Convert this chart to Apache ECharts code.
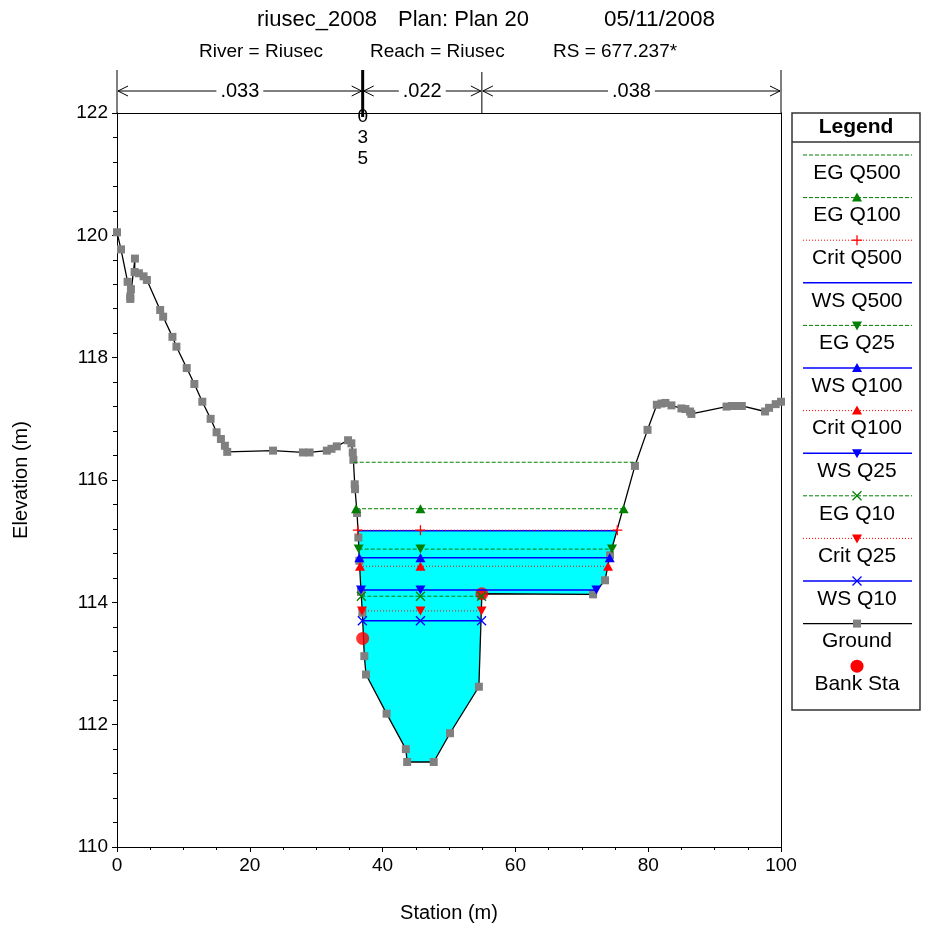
<!DOCTYPE html>
<html><head><meta charset="utf-8">
<script src="https://cdn.jsdelivr.net/npm/echarts@6/dist/echarts.min.js"></script>
<style>html,body{margin:0;padding:0;background:#fff}#c{width:928px;height:928px}</style>
</head><body><div id="c"></div>
<script>
// ---------------- DATA ----------------
const groundX = [0.0,0.6,1.6,2.1,2.0,2.0,2.7,2.65,3.3,4.0,4.5,6.5,6.95,8.35,8.95,10.5,11.65,12.85,14.1,15.0,15.65,16.25,16.6,
  23.5,28.0,29.0,31.6,32.3,33.1,34.8,35.3,35.5,35.6,35.8,35.85,36.15,36.35,36.5,36.75,36.95,37.25,37.5,40.6,43.5,43.7,47.7,50.15,54.5,54.95,
  71.7,73.5,74.25,78.0,79.9,81.3,82.0,82.6,83.5,85.0,85.6,86.3,86.5,91.8,92.6,93.3,94.1,97.6,98.2,99.2,100.0];
const groundY = [120.05,119.77,119.24,119.12,119.0,118.96,119.62,119.4,119.38,119.33,119.27,118.78,118.67,118.34,118.18,117.83,117.57,117.28,117.0,116.78,116.67,116.56,116.46,
  116.48,116.45,116.45,116.48,116.51,116.55,116.65,116.6,116.45,116.33,115.93,115.85,115.46,115.06,114.68,114.17,113.83,113.12,112.82,112.18,111.6,111.39,111.39,111.86,112.62,114.14,
  114.13,114.36,114.77,116.23,116.82,117.23,117.25,117.26,117.22,117.17,117.16,117.12,117.08,117.2,117.21,117.21,117.21,117.12,117.18,117.24,117.28];
const bankX = [37.0, 54.95];
const bankY = [113.41, 114.14];

const wsNames  = ['EG Q500','EG Q100','Crit Q500','WS Q500','EG Q25','WS Q100','Crit Q100','WS Q25','EG Q10','Crit Q25','WS Q10'];
const wsLevels = [116.29, 115.53, 115.18, 115.17, 114.87, 114.73, 114.59, 114.20, 114.10, 113.86, 113.70];
const wsLeft   = [35.65, 36.0, 36.27, 36.27, 36.4, 36.5, 36.6, 36.75, 36.8, 36.9, 36.95];
const wsMid    = [45.7, 45.7, 45.7, 45.7, 45.7, 45.7, 45.7, 45.7, 45.7, 45.7, 45.7];
const wsRight  = [78.15, 76.3, 75.35, 75.35, 74.55, 74.2, 73.95, 72.2, 54.9, 54.9, 54.9];
const fillLevelIndex = 3; // WS Q500

const nStations = [0, 37.0, 54.95, 100];
const nValues = ['.033', '.022', '.038'];

const xTickInterval = 20;
const yTickInterval = 2;

// ---------------- STYLES ----------------
const FONT = '"Liberation Sans", Arial, Helvetica, sans-serif';
const GREEN = '#008000', RED = '#ff0000', BLUE = '#0000ff';
const wsStyle = [
  {c:GREEN, t:[4,2], w:1, s:'none'},
  {c:GREEN, t:[4,2], w:1, s:'tu'},
  {c:RED,   t:[1,2], w:1, s:'plus'},
  {c:BLUE,  t:'solid', w:1.5, s:'none'},
  {c:GREEN, t:[4,2], w:1, s:'td'},
  {c:BLUE,  t:'solid', w:1.5, s:'tu'},
  {c:RED,   t:[1,2], w:1, s:'tu'},
  {c:BLUE,  t:'solid', w:1.5, s:'td'},
  {c:GREEN, t:[4,2], w:1, s:'x'},
  {c:RED,   t:[1,2], w:1, s:'td'},
  {c:BLUE,  t:'solid', w:1.5, s:'x'}
];
const PLUS = 'path://M0,5L10,5M5,0L5,10';
const CROSS = 'path://M0,0L10,10M10,0L0,10';

function symbolOpts(st) {
  switch (st.s) {
    case 'tu': return {symbol:'triangle', symbolSize:[10,9], symbolRotate:0, itemStyle:{color:st.c}};
    case 'td': return {symbol:'triangle', symbolSize:[10,9], symbolRotate:180, itemStyle:{color:st.c}};
    case 'plus': return {symbol:PLUS, symbolSize:10, itemStyle:{color:'rgba(0,0,0,0)', borderColor:st.c, borderWidth:1.3}};
    case 'x': return {symbol:CROSS, symbolSize:9, itemStyle:{color:'rgba(0,0,0,0)', borderColor:st.c, borderWidth:1.3}};
    default: return {symbol:'none', itemStyle:{color:st.c}};
  }
}

// submerged polygon (ground below water level)
function submergedPolygon(level) {
  const pts = [];
  for (let i = 0; i < groundX.length; i++) {
    if (groundY[i] < level) pts.push([groundX[i], groundY[i]]);
    if (i < groundX.length - 1) {
      const y0 = groundY[i] - level, y1 = groundY[i+1] - level;
      if (y0 * y1 < 0) {
        const f = y0 / (y0 - y1);
        pts.push([groundX[i] + f * (groundX[i+1] - groundX[i]), level]);
      }
    }
  }
  return pts;
}
const fillPoly = submergedPolygon(wsLevels[fillLevelIndex]);

const chart = echarts.init(document.getElementById('c'));

const series = [];
series.push({
  type:'custom', name:'fill', z:1, silent:true,
  data:[[50,113]],
  renderItem: function(params, api) {
    const pts = fillPoly.map(p => api.coord(p));
    return {type:'polygon', shape:{points:pts}, style:{fill:'#00ffff', stroke:null}};
  }
});
series.push({
  type:'line', name:'Ground', z:3,
  data: groundX.map((x,i) => [x, groundY[i]]),
  lineStyle:{color:'#000', width:1.3},
  symbol:'rect', symbolSize:8, showAllSymbol:true,
  itemStyle:{color:'#808080'}
});
series.push({
  type:'scatter', name:'Bank Sta', z:4,
  data: bankX.map((x,i) => [x, bankY[i]]),
  symbol:'circle', symbolSize:13, itemStyle:{color:RED}
});
for (let k = wsNames.length - 1; k >= 0; k--) {
  const st = wsStyle[k];
  const so = symbolOpts(st);
  series.push(Object.assign({
    type:'line', name:wsNames[k], z:5,
    data:[[wsLeft[k], wsLevels[k]], [wsMid[k], wsLevels[k]], [wsRight[k], wsLevels[k]]],
    lineStyle:{color:st.c, width:st.w, type:st.t},
    showAllSymbol:true
  }, so));
}

const axisText = {color:'#000', fontFamily:FONT, fontSize:19};
chart.setOption({
  animation:false,
  backgroundColor:'#fff',
  grid:{left:117, right:147, top:113, bottom:81, containLabel:false},
  xAxis:[{
    type:'value', min:0, max:100, interval:xTickInterval,
    name:'Station (m)', nameLocation:'middle', nameGap:56,
    nameTextStyle:{color:'#000', fontFamily:FONT, fontSize:20},
    axisLine:{show:true, onZero:false, lineStyle:{color:'#000', width:1}},
    axisTick:{show:true, inside:false, length:5, lineStyle:{color:'#000'}},
    minorTick:{show:true, splitNumber:4, length:3, lineStyle:{color:'#000'}},
    axisLabel:Object.assign({margin:9}, axisText),
    splitLine:{show:false}
  },{
    type:'value', min:0, max:100, position:'top',
    axisLine:{show:true, onZero:false, lineStyle:{color:'#000', width:1}},
    axisTick:{show:false}, axisLabel:{show:false}, splitLine:{show:false}
  }],
  yAxis:[{
    type:'value', min:110, max:122, interval:yTickInterval,
    name:'Elevation (m)', nameLocation:'middle', nameGap:86,
    nameTextStyle:{color:'#000', fontFamily:FONT, fontSize:20},
    axisLine:{show:true, onZero:false, lineStyle:{color:'#000', width:1}},
    axisTick:{show:true, inside:false, length:5, lineStyle:{color:'#000'}},
    minorTick:{show:true, splitNumber:5, length:4, lineStyle:{color:'#000'}},
    axisLabel:Object.assign({margin:9}, axisText),
    splitLine:{show:false}
  },{
    type:'value', min:110, max:122, position:'right',
    axisLine:{show:true, onZero:false, lineStyle:{color:'#000', width:1}},
    axisTick:{show:false}, axisLabel:{show:false}, splitLine:{show:false}
  }],
  series: series
});

// ---------------- GRAPHICS (title, n-values, legend) ----------------
const P = (x, y) => chart.convertToPixel({xAxisIndex:0, yAxisIndex:0}, [x, y]);
const g = [];
const yTopPix = P(0, 122)[1];
const yExt = yTopPix - 43;
const yArrow = yTopPix - 22;

function txt(x, y, s, size, opts) {
  g.push({type:'text', x:x, y:y, z:100, style:Object.assign({text:s, fill:'#000', font: size + 'px ' + FONT, textVerticalAlign:'middle', textAlign:'left'}, opts || {})});
}
txt(257, 20, 'riusec_2008', 22);
txt(398, 20, 'Plan: Plan 20', 22);
txt(604, 20, '05/11/2008', 22.5);
txt(199, 52, 'River = Riusec', 19);
txt(370, 52, 'Reach = Riusec', 19);
txt(553, 52, 'RS = 677.237*', 19);

function line(x1, y1, x2, y2, color, w, dash) {
  g.push({type:'line', z:100, shape:{x1:x1, y1:y1, x2:x2, y2:y2}, style:{stroke:color, lineWidth:w, lineDash:dash || null}});
}
const xs = nStations.map(s => P(s, 122)[0]);
line(xs[0], yExt, xs[0], yTopPix, '#000', 1);
line(xs[3], yExt, xs[3], yTopPix, '#000', 1);
line(xs[1], yExt, xs[1], yTopPix + 4, '#000', 3);
line(xs[2], yExt + 2, xs[2], yTopPix, '#000', 1);

for (let i = 0; i < nValues.length; i++) {
  const a = xs[i] + 1, b = xs[i+1] - 1, m = (xs[i] + xs[i+1]) / 2;
  line(a, yArrow, b, yArrow, '#000', 1);
  line(a, yArrow, a + 10, yArrow - 5, '#000', 1);
  line(a, yArrow, a + 10, yArrow + 5, '#000', 1);
  line(b, yArrow, b - 10, yArrow - 5, '#000', 1);
  line(b, yArrow, b - 10, yArrow + 5, '#000', 1);
  g.push({type:'text', x:m, y:yArrow, z:101, style:{text:nValues[i], fill:'#000', font:'20px ' + FONT, textAlign:'center', textVerticalAlign:'middle', backgroundColor:'#fff', padding:[0,4]}});
}
['0','3','5'].forEach((s, i) => {
  g.push({type:'text', x:xs[1], y:yTopPix + 4 + i * 21, z:101, style:{text:s, fill:'#000', font:'19px ' + FONT, textAlign:'center', textVerticalAlign:'middle'}});
});

// legend
const LX0 = 792, LX1 = 920, LY0 = 113, LY1 = 710;
g.push({type:'rect', z:100, shape:{x:LX0, y:LY0, width:LX1 - LX0, height:LY1 - LY0}, style:{fill:'#fff', stroke:'#333', lineWidth:1.5}});
line(LX0, 142, LX1, 142, '#333', 1.5);
g.push({type:'text', x:(LX0 + LX1) / 2, y:127, z:101, style:{text:'Legend', fill:'#000', font:'bold 21px ' + FONT, textAlign:'center', textVerticalAlign:'middle'}});
const legNames = wsNames.concat(['Ground', 'Bank Sta']);
const cx = 857;
legNames.forEach((nm, i) => {
  const ly = 155 + 42.6 * i;
  const ty = ly + 18;
  if (i < wsNames.length) {
    const st = wsStyle[i];
    const dash = st.t === 'solid' ? null : st.t;
    line(803, ly, 912, ly, st.c, st.w, dash);
    if (st.s === 'tu') g.push({type:'polygon', z:102, shape:{points:[[cx-5, ly+4],[cx+5, ly+4],[cx, ly-5]]}, style:{fill:st.c}});
    if (st.s === 'td') g.push({type:'polygon', z:102, shape:{points:[[cx-5, ly-4],[cx+5, ly-4],[cx, ly+5]]}, style:{fill:st.c}});
    if (st.s === 'plus') { line(cx-5, ly, cx+5, ly, st.c, 1.3); line(cx, ly-5, cx, ly+5, st.c, 1.3); }
    if (st.s === 'x') { line(cx-4.5, ly-4.5, cx+4.5, ly+4.5, st.c, 1.3); line(cx-4.5, ly+4.5, cx+4.5, ly-4.5, st.c, 1.3); }
  } else if (nm === 'Ground') {
    line(803, ly, 912, ly, '#000', 1.3);
    g.push({type:'rect', z:102, shape:{x:cx-4, y:ly-4, width:8, height:8}, style:{fill:'#808080'}});
  } else {
    g.push({type:'circle', z:102, shape:{cx:cx, cy:ly, r:6.5}, style:{fill:RED}});
  }
  g.push({type:'text', x:cx, y:ty, z:101, style:{text:nm, fill:'#000', font:'21px ' + FONT, textAlign:'center', textVerticalAlign:'middle'}});
});

chart.setOption({graphic:g});
</script>
</body></html>
